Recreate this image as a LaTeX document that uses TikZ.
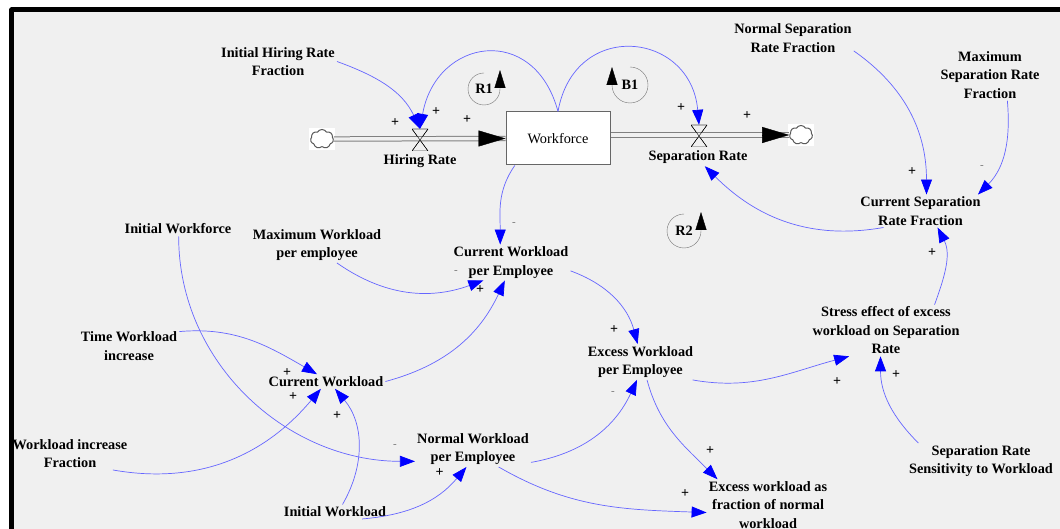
\documentclass[tikz,border=0pt]{standalone}
\usepackage{fontspec}
\setmainfont{Liberation Serif}
\usetikzlibrary{arrows.meta,shapes.symbols}
\definecolor{panel}{HTML}{F0F0F0}
\tikzset{
  var/.style={font=\fontsize{14.3}{18.5}\selectfont\bfseries,align=center,inner sep=2pt},
  link/.style={draw=blue!60,line width=.7pt,-{Triangle[length=15pt,width=11pt,color=blue,fill=blue]}},
  pipe/.style={draw=black!50,line width=5pt,double=panel,double distance=3.4pt,line width=1pt},
  flowtip/.style={draw=black,-{Triangle[length=27pt,width=16pt]}},
  looptip/.style={draw=black!55,thin,-{Triangle[length=18pt,width=11pt,color=black,fill=black]}},
  sign/.style={font=\fontsize{14}{14}\selectfont\bfseries,inner sep=0pt},
  minus/.style={font=\fontsize{11}{11}\selectfont,text=black!55,inner sep=0pt},
  valve/.style={inner sep=0pt,minimum width=16pt,minimum height=22pt,path picture={
      \draw[black,thin] (path picture bounding box.north west) -- (path picture bounding box.north east)
        -- (path picture bounding box.south west) -- (path picture bounding box.south east)
        -- (path picture bounding box.north west) -- cycle;}},
  puff/.style={cloud,cloud puffs=7,cloud puff arc=120,aspect=1.2,draw=black!65,fill=white,line width=1pt,
      inner sep=0pt,minimum width=23pt,minimum height=19pt}
}
\begin{document}
\begin{tikzpicture}[x=1pt,y=1pt]
  \useasboundingbox (0,0) rectangle (1060,-529);
  \fill[panel] (9,-8) rectangle (1060,-529);

  % stock and flows
  \node (workforce) [draw=black!60,fill=white,line width=1pt,minimum width=104pt,minimum height=53pt,
    font=\fontsize{14.3}{18}\selectfont,inner sep=0pt] at (558,-138.5) {Workforce};
  \foreach \name/\x/\y in {leftcloud/322/-139,rightcloud/801/-135} {
    \fill[white] (\x-13,\y-11) rectangle (\x+13,\y+11);
    \node (\name) [puff] at (\x,\y) {};
  }
  \node (hiringvalve) [valve] at (420,-140) {};
  \node (sepvalve) [valve] at (699,-136) {};
  \draw[pipe] (leftcloud.east) -- (workforce.west);
  \draw[pipe] (workforce.east |- rightcloud.west) -- (rightcloud.west);
  \node[valve] at (hiringvalve) {};
  \node[valve] at (sepvalve) {};
  \draw[flowtip] (workforce.west) ++(-27,0) -- (workforce.west);
  \draw[flowtip] (rightcloud.west) ++(-27,0) -- (rightcloud.west);

  % variables
  \node (hiringrate) [var] at (420,-161.5) {Hiring Rate};
  \node (seprate) [var] at (698,-157.5) {Separation Rate};
  \node (ihrf) [var] at (278,-61.5) {Initial Hiring Rate\\Fraction};
  \node (nsrf) [var] at (793,-38) {Normal Separation\\Rate Fraction};
  \node (msrf) [var] at (990,-75) {Maximum\\Separation Rate\\Fraction};
  \node (csrf) [var] at (920.5,-211) {Current Separation\\Rate Fraction};
  \node (iwf) [var] at (178,-229) {Initial Workforce};
  \node (mw) [var] at (317,-245) {Maximum Workload\\per employee};
  \node (cwpe) [var] at (511,-262.5) {Current Workload\\per Employee};
  \node (time) [var] at (129,-346) {Time Workload\\increase};
  \node (cw) [var] at (326,-381.5) {Current Workload};
  \node (wif) [var] at (70,-453.5) {Workload increase\\Fraction};
  \node (nw) [var] at (473,-449) {Normal Workload\\per Employee};
  \node (iw) [var] at (335,-511.7) {Initial Workload};
  \node (ewpe) [var] at (640.5,-362) {Excess Workload\\per Employee};
  \node (stress) [var] at (886,-330.5) {Stress effect of excess\\workload on Separation\\Rate};
  \node (sens) [var] at (981,-461) {Separation Rate\\Sensitivity to Workload};
  \node (frac) [var] at (768,-505) {Excess workload as\\fraction of normal\\workload};

  % causal links
  \draw[link] (ihrf.east) to[out=-20,in=115] (hiringvalve.north);
  \draw[link] (workforce.north) to[out=105,in=80,looseness=1.7] (hiringvalve.north);
  \draw[link] (workforce.north) to[out=80,in=95,looseness=1.7] (sepvalve.north);
  \draw[link] (workforce.212) to[out=235,in=90] (cwpe.121);
  \draw[link] (csrf.204) to[out=190,in=-45] (seprate.-52);
  \draw[link] (nsrf.-12) to[out=-35,in=90] (csrf.70);
  \draw[link] (msrf.-56) to[out=-85,in=45] (csrf.16);
  \draw[link] (mw.-42) to[out=-35,in=200] (cwpe.213);
  \draw[link] (cw.east) to[out=15,in=-115] (cwpe.251);
  \draw[link] (time.16) to[out=5,in=150] (cw.141);
  \draw[link] (wif.-21) to[out=-10,in=230] (cw.235);
  \draw[link] (iw.44) to[out=60,in=-50] (cw.-39);
  \draw[link] (iw.-15) to[out=5,in=-130] (nw.250);
  \draw[link] (iwf.-85) to[out=-90,in=180] (nw.192);
  \draw[link] (cwpe.-8) to[out=-20,in=105] (ewpe.99);
  \draw[link] (ewpe.-19) to[out=-10,in=195] (stress.215);
  \draw[link] (stress.28) to[out=70,in=-63] (csrf.-44);
  \draw[link] (sens.164) to[out=135,in=-90] (stress.258);
  \draw[link] (nw.-13) to[out=10,in=-115] (ewpe.259);
  \draw[link] (nw.-35) to[out=-30,in=178] (frac.187);
  \draw[link] (ewpe.-70) to[out=-75,in=135] (frac.153);

  % polarity signs
  \foreach \x/\y [count=\i] in {395/123,436/112,467/120,681/108,747/116,912/172,932/253,
      480/290,287/373,293/397,337/416,439.5/473,614/330,837/382,896/375,710/451,685/494} {
    \node (plus\i) [sign] at (\x,-\y) {+};
  }
  \foreach \x/\y [count=\i] in {514/224,456/272,395/446,613/393,982/167} {
    \node (minus\i) [minus] at (\x,-\y) {-};
  }

  % loop markers
  \node (rone) [var] at (484,-89) {R1};
  \node (bone) [var] at (630,-85) {B1};
  \node (rtwo) [var] at (684,-231) {R2};
  \draw[looptip] (rone.center) ++(90:16) arc (90:360:16) -- ++(0,19);
  \draw[looptip] (rtwo.center) ++(90:17) arc (90:360:17) -- ++(0,19);
  \draw[looptip] (bone.center) ++(90:18) arc (90:-180:18) -- ++(0,18);

  \draw[line width=5pt,line join=round] (11.8,-529) -- (11.8,-9.9) -- (1060,-9.9);
\end{tikzpicture}
\end{document}
